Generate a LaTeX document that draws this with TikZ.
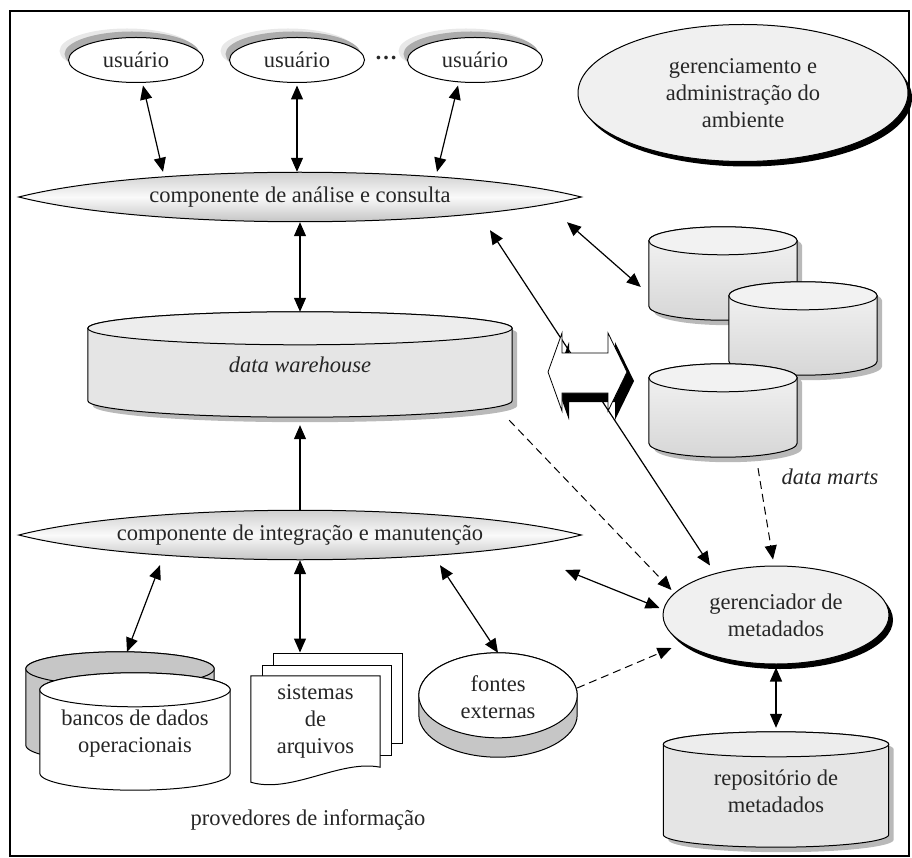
\documentclass[tikz,border=0pt]{standalone}
\usepackage{fontspec}
\setmainfont{Liberation Serif}
\usetikzlibrary{arrows.meta,shapes.geometric,shadows,backgrounds,calc}

% cilindro desenhado em volta de um no: opcoes, no, raio da tampa, cor da tampa
\newcommand{\cilindro}[4]{%
  \path[draw, line width=1pt, #1] let \p1=(#2.north west), \p2=(#2.south east), \n1={(\x2-\x1)/2} in
    (\x1,\y1-#3) -- (\x1,\y2+#3) arc[start angle=180, end angle=360, x radius={\n1*1pt}, y radius=#3]
    -- (\x2,\y1-#3) arc[start angle=0, end angle=180, x radius={\n1*1pt}, y radius=#3] -- cycle;
  \path[draw, line width=1pt, fill=#4] let \p1=(#2.north west), \p2=(#2.south east), \p3=(#2.north),
    \n1={(\x2-\x1)/2} in (\x3,\y1-#3) ellipse[x radius={\n1*1pt}, y radius=#3];
}

\begin{document}
\begin{tikzpicture}[x=1pt, y=-1pt, font=\fontsize{22.5}{27}\selectfont, text=black!85,
  ponta/.tip={Triangle[length=14pt,width=12pt]},
  dupla/.style={ponta-ponta, line width=1.2pt},
  simples/.style={-ponta, line width=1.2pt},
  tracejada/.style={-ponta, line width=1pt, dash pattern=on 8pt off 5pt},
  usuario/.style={ellipse, draw, line width=1pt, fill=white, minimum width=135pt, minimum height=45pt, inner sep=0pt,
    drop shadow={shadow xshift=-9pt, shadow yshift=9pt, fill=gray!18, opacity=1},
    drop shadow={shadow xshift=-4pt, shadow yshift=6pt, fill=gray!65, opacity=1}},
  componente/.style={ellipse, minimum width=562pt, minimum height=50pt, inner sep=0pt},
  lente/.style={draw, line width=1pt, top color=gray!50, bottom color=gray!60, middle color=gray!4},
  elipse/.style={ellipse, draw, line width=1pt, fill=gray!12, align=center, inner sep=0pt,
    drop shadow={shadow xshift=4pt, shadow yshift=-5pt, fill=black, opacity=1}},
  cilindro/.style={rectangle, inner sep=0pt, align=center},
  sombra/.style={drop shadow={shadow xshift=5pt, shadow yshift=-5pt, fill=gray!55, opacity=1}},
  mart/.style={cilindro, minimum width=148pt, minimum height=93pt},
  pagina/.style={draw, line width=1pt, fill=white, minimum width=129pt, minimum height=90pt, inner sep=0pt},
]
\useasboundingbox (0,0) rectangle (912,858);
\draw[line width=2pt] (10,11) rectangle (909,856);

% usuarios
\node[usuario] (usuario1) at (136,60) {usuário};
\node[usuario] (usuario2) at (297,60) {usuário};
\node[usuario] (usuario3) at (475,60) {usuário};
\node (reticencias) at (386,58) {\textbf{\dots}};

\node[elipse, minimum width=330pt, minimum height=137pt] (gerenciamento) at (743,93)
  {gerenciamento e\\administração do\\ambiente};

% componentes
\node[componente] (consulta) at (300,197) {componente de análise e consulta};
\node[componente] (integracao) at (300,535) {componente de integração e manutenção};

% data warehouse e data marts
\node[cilindro, minimum width=424pt, minimum height=105pt] (dw) at (300,364.5) {\itshape data warehouse};
\node[mart] (mart1) at (723,273.5) {};
\node[mart] (mart2) at (803,328.5) {};
\node[mart] (mart3) at (723,410.5) {};
\node (marts) at (830,477) {\itshape data marts};

% metadados
\node[elipse, minimum width=226pt, minimum height=98pt] (gerenciador) at (776,615) {gerenciador de\\metadados};
\node[cilindro, minimum width=225pt, minimum height=115pt] (repositorio) at (776,789.5)
  {\\[-8pt]repositório de\\metadados};

% provedores
\node[cilindro, minimum width=188pt, minimum height=110pt] (bancosfundo) at (120,707) {};
\node[cilindro, minimum width=190pt, minimum height=117pt] (bancos) at (135,731.5)
  {\\[-8pt]bancos de dados\\operacionais};
\node[minimum width=129pt, minimum height=91pt, inner sep=0pt, align=center] (arquivos) at (315.5,721.5)
  {sistemas\\de\\arquivos};
\node[cilindro, minimum width=158pt, minimum height=104pt] (fontes) at (498,705) {};
\node[align=center] (fontestexto) at (498,697) {fontes\\externas};
\node (provedores) at (308,820) {provedores de informação};

\begin{scope}[on background layer]
  \path[lente] (consulta.west) .. controls +(130,-33) and +(-130,-33) .. (consulta.east)
    .. controls +(-130,33) and +(130,33) .. (consulta.west) -- cycle;
  \path[lente] (integracao.west) .. controls +(130,-33) and +(-130,-33) .. (integracao.east)
    .. controls +(-130,33) and +(130,33) .. (integracao.west) -- cycle;
  \node[pagina] (arquivo3) at (337.5,698) {};
  \node[pagina] (arquivo2) at (326.5,710) {};
  \filldraw[fill=white, line width=1pt] (arquivos.south east) -- (arquivos.north east) -- (arquivos.north west)
    -- ([yshift=-15pt]arquivos.south west) .. controls +(40,12) and +(-40,-8) .. (arquivos.south east) -- cycle;
  \cilindro{fill=gray!20, sombra}{dw}{16.5pt}{gray!14}
  \cilindro{top color=gray!8, bottom color=gray!32, sombra}{mart1}{14pt}{gray!10}
  \cilindro{top color=gray!8, bottom color=gray!32, sombra}{mart2}{14pt}{gray!10}
  \cilindro{top color=gray!8, bottom color=gray!32, sombra}{mart3}{14pt}{gray!10}
  \cilindro{fill=gray!20, sombra}{repositorio}{12.5pt}{gray!14}
  \cilindro{fill=gray!45}{bancosfundo}{17pt}{gray!45}
  \cilindro{fill=white}{bancos}{17pt}{white}
  \cilindro{fill=gray!45}{fontes}{42.5pt}{white}
\end{scope}

% conexoes
\draw[dupla] ([xshift=7pt,yshift=-2.5pt]usuario1.south) -- ([xshift=-137pt]consulta.north);
\draw[dupla] ([yshift=-2.5pt]usuario2.south) -- (usuario2.south |- consulta.north);
\draw[dupla] ([xshift=-17pt,yshift=-2.5pt]usuario3.south) -- ([xshift=137pt]consulta.north);
\draw[dupla] (consulta.south) -- (dw.north);
\draw[dupla] ([xshift=267pt]consulta.south) -- ([xshift=-8pt,yshift=-13.5pt]mart1.west);
\draw[dupla] ([xshift=190pt,yshift=-8pt]consulta.south) -- ([xshift=-66pt]gerenciador.north);
\draw[simples] (integracao.north) -- ([yshift=-8pt]dw.south);
\draw[tracejada] ([xshift=-3pt,yshift=-3pt]dw.south east) -- ([xshift=9pt,yshift=25pt]gerenciador.west);
\draw[tracejada] ([xshift=35pt,yshift=-11pt]mart3.south) -- ([xshift=-3pt,yshift=6pt]gerenciador.north);
\draw[dupla] ([xshift=-16pt,yshift=-35pt]integracao.east) -- ([xshift=-3pt,yshift=7pt]gerenciador.west);
\draw[dupla] ([xshift=-140pt,yshift=-5pt]integracao.south) -- ([xshift=7pt]bancosfundo.north);
\draw[dupla] (integracao.south) -- (integracao.south |- arquivo3.north);
\draw[dupla] ([xshift=140pt,yshift=-5pt]integracao.south) -- (fontes.north);
\draw[tracejada] ([yshift=17pt]fontes.east) -- ([xshift=9pt,yshift=-33pt]gerenciador.west);
\draw[dupla] ([yshift=-3pt]gerenciador.south) -- ([yshift=4pt]repositorio.north);

% seta dupla em bloco
\begin{scope}[shift={(588,372)}]
  \fill[black] (-33,9) -- (-19,-30) -- (-19,-10) -- (27,-10) -- (27,-30) -- (46,9) -- (27,48) -- (27,30)
    -- (-19,30) -- (-19,48) -- cycle;
  \filldraw[fill=white, line width=0.8pt] (-40,0) -- (-26,-39) -- (-26,-19) -- (20,-19) -- (20,-39) -- (39,0)
    -- (20,39) -- (20,21) -- (-26,21) -- (-26,39) -- cycle;
\end{scope}
\end{tikzpicture}
\end{document}
